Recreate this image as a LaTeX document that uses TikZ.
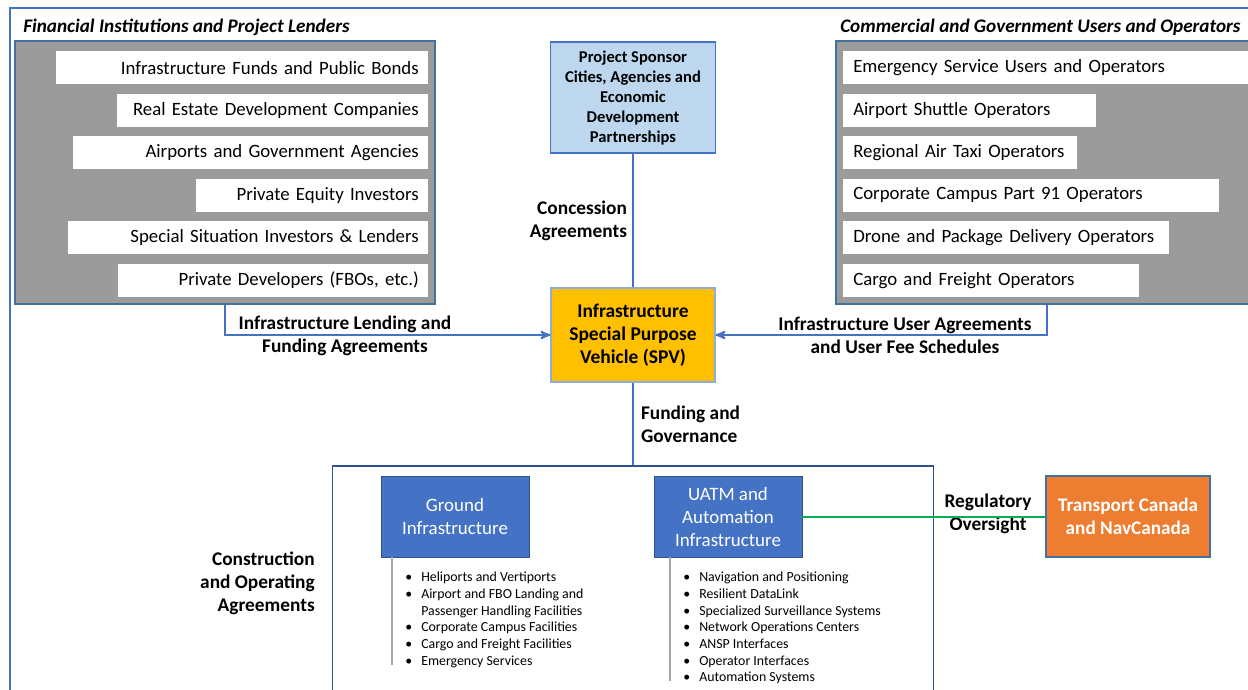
\documentclass[tikz,border=0pt]{standalone}
\usepackage{fontspec}
\setmainfont{Carlito}
\usepackage{tikz}
\usetikzlibrary{arrows}
\usetikzlibrary{positioning}
\definecolor{frameblue}{HTML}{4472C4}
\definecolor{edgeblue}{HTML}{41719C}
\definecolor{darkblue}{HTML}{2F528F}
\definecolor{groupgray}{HTML}{9B9B9B}
\definecolor{sponsorblue}{HTML}{BDD7EE}
\definecolor{spvgold}{HTML}{FFC000}
\definecolor{tcorange}{HTML}{ED7D31}
\definecolor{regreen}{HTML}{00B050}
\tikzset{
    group/.style = {draw=edgeblue, line width=1.1pt, fill=groupgray, minimum width=315pt, minimum height=197.25pt},
    item/.style = {fill=white, minimum height=24.75pt, inner ysep=0pt, font=\fontsize{14.1}{16}\selectfont},
    finitem/.style = {item, inner xsep=6.75pt, align=right},
    useritem/.style = {item, inner xsep=7.5pt, align=left},
    grouptitle/.style = {font=\fontsize{14.4}{16}\selectfont\bfseries\itshape, inner sep=0pt},
    lbl/.style = {font=\fontsize{14.5}{17.25}\selectfont\bfseries, align=center, inner sep=0pt},
    link/.style = {draw=frameblue, line width=1.5pt},
    infbox/.style = {draw=darkblue, fill=frameblue, text=white, minimum width=111pt, minimum height=60.75pt, align=center, font=\fontsize{14.2}{17.25}\selectfont},
    bullets/.style = {inner sep=0pt, font=\fontsize{10.4}{12.5}\selectfont},
    listline/.style = {draw=gray!70, line width=1pt},
}
\begin{document}
\begin{tikzpicture}[x=0.75pt,y=-0.75pt,>=stealth']
\useasboundingbox (0,0) rectangle (1248,689);
\clip (0,0) rectangle (1248,689);
\draw[frameblue, line width=1.5pt] (10,8) rectangle (1290,720);

\node (fintitle) [grouptitle, anchor=west] at (23,27) {Financial Institutions and Project Lenders};
\node (fin) [group] at (225,172.5) {};
\node (fin1) [finitem, text width=265.5pt, anchor=north east] at (428,51) {Infrastructure Funds and Public Bonds};
\node (fin2) [finitem, text width=219.75pt, below left=6.75pt and 0pt of fin1.south east] {Real Estate Development Companies};
\node (fin3) [finitem, text width=252.75pt, below left=6.75pt and 0pt of fin2.south east] {Airports and Government Agencies};
\node (fin4) [finitem, text width=160.5pt, below left=6.75pt and 0pt of fin3.south east] {Private Equity Investors};
\node (fin5) [finitem, text width=256.5pt, below left=6.75pt and 0pt of fin4.south east] {Special Situation Investors \& Lenders};
\node (fin6) [finitem, text width=219pt, below left=6.75pt and 0pt of fin5.south east] {Private Developers (FBOs, etc.)};

\node (usetitle) [grouptitle, anchor=west] at (840,27) {Commercial and Government Users and Operators};
\node (users) [group, minimum width=316.5pt] at (1047,172.5) {};
\node (use1) [useritem, text width=297.75pt, anchor=north west] at (843,51) {Emergency Service Users and Operators};
\node (use2) [useritem, text width=174.75pt, below right=6.75pt and 0pt of use1.south west] {Airport Shuttle Operators};
\node (use3) [useritem, text width=160.5pt, below right=6.75pt and 0pt of use2.south west] {Regional Air Taxi Operators};
\node (use4) [useritem, text width=267pt, below right=6.75pt and 0pt of use3.south west] {Corporate Campus Part 91 Operators};
\node (use5) [useritem, text width=229.5pt, below right=6.75pt and 0pt of use4.south west] {Drone and Package Delivery Operators};
\node (use6) [useritem, text width=207pt, below right=6.75pt and 0pt of use5.south west] {Cargo and Freight Operators};

\node (sponsor) [draw=frameblue, line width=1pt, fill=sponsorblue, minimum width=123.75pt, minimum height=83.25pt, align=center, font=\fontsize{12.4}{15}\selectfont\bfseries] at (633,97.5) {Project Sponsor\\Cities, Agencies and\\Economic\\Development\\Partnerships};
\node (spv) [draw=frameblue!60, line width=1pt, fill=spvgold, minimum width=123pt, minimum height=70.5pt, align=center, font=\fontsize{14.6}{17.25}\selectfont\bfseries] at (633,335) {Infrastructure\\Special Purpose\\Vehicle (SPV)};
\node (infra) [draw=darkblue, line width=0.8pt, minimum width=450.75pt, minimum height=190.5pt] at (633,593) {};
\node (ground) [infbox] at (455,516.5) {Ground\\Infrastructure};
\node (uatm) [infbox] at (728,516.5) {UATM and\\Automation\\Infrastructure};
\node (tc) [draw=edgeblue, line width=1pt, fill=tcorange, text=white, minimum width=123pt, minimum height=60.75pt, align=center, font=\fontsize{14.4}{17.25}\selectfont\bfseries] at (1128,516.5) {Transport Canada\\and NavCanada};

\node (glist) [bullets, anchor=north west] at (405,570) {\begin{tabular}{@{}p{12pt}@{}l@{}}
\textbullet & Heliports and Vertiports\\
\textbullet & Airport and FBO Landing and\\
 & Passenger Handling Facilities\\
\textbullet & Corporate Campus Facilities\\
\textbullet & Cargo and Freight Facilities\\
\textbullet & Emergency Services
\end{tabular}};
\node (ulist) [bullets, anchor=north west] at (683,570) {\begin{tabular}{@{}p{12pt}@{}l@{}}
\textbullet & Navigation and Positioning\\
\textbullet & Resilient DataLink\\
\textbullet & Specialized Surveillance Systems\\
\textbullet & Network Operations Centers\\
\textbullet & ANSP Interfaces\\
\textbullet & Operator Interfaces\\
\textbullet & Automation Systems
\end{tabular}};
\coordinate (gend) at (392,665);
\coordinate (uend) at (670,681);
\draw[listline] (ground.south west -| gend) -- (gend);
\draw[listline] (uatm.south west -| uend) -- (uend);

\node (lendlbl) [lbl] at (345,335.5) {Infrastructure Lending and\\Funding Agreements};
\node (uselbl) [lbl] at (905,335.5) {Infrastructure User Agreements\\and User Fee Schedules};
\node (buildlbl) [lbl, align=right, anchor=east] at (315,583.5) {Construction\\and Operating\\Agreements};
\node (reglbl) [lbl] at (988,514) {Regulatory\\Oversight};

\draw[link] (sponsor) -- node[lbl, left=3.75pt, align=right] {Concession\\Agreements} (spv);
\draw[link] (spv) -- node[lbl, right=5.25pt, align=left] {Funding and\\Governance} (infra);
\draw[link,->] (fin) |- (spv);
\draw[link,->] (users) |- (spv);
\draw[draw=regreen, line width=1.5pt] (uatm) -- (tc);
\end{tikzpicture}
\end{document}
